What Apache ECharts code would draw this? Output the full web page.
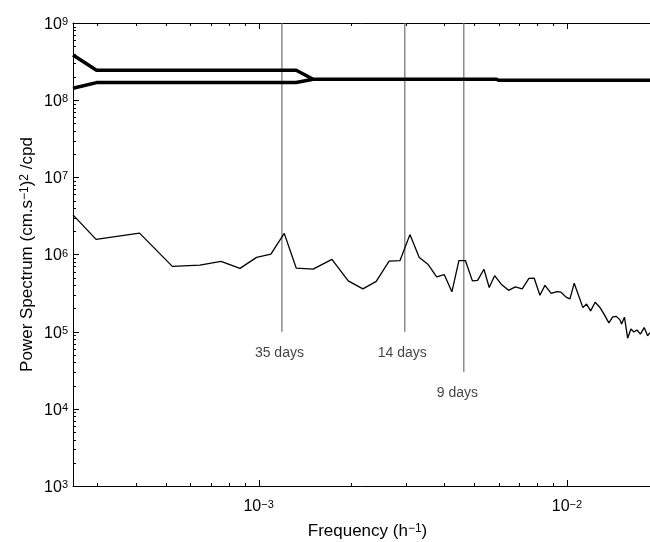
<!DOCTYPE html>
<html><head><meta charset="utf-8">
<script src="https://cdn.jsdelivr.net/npm/echarts@6/dist/echarts.min.js"></script>
<style>html,body{margin:0;padding:0;background:#fff}#c{width:650px;height:542px}</style>
</head><body><div id="c"></div>
<script>
// ---- data ----
const freq = [2.50e-4, 2.97e-4, 4.11e-4, 5.25e-4, 6.45e-4, 7.55e-4, 8.70e-4, 9.85e-4, 1.096e-3, 1.211e-3,
  1.324e-3, 1.503e-3, 1.729e-3, 1.953e-3, 2.179e-3, 2.407e-3, 2.650e-3, 2.873e-3, 3.096e-3, 3.319e-3,
  3.549e-3, 3.780e-3, 3.999e-3, 4.236e-3, 4.463e-3, 4.685e-3, 4.937e-3, 5.132e-3, 5.380e-3, 5.598e-3,
  5.828e-3, 6.122e-3, 6.470e-3, 6.797e-3, 7.161e-3, 7.529e-3, 7.833e-3, 8.174e-3, 8.486e-3, 8.895e-3,
  9.282e-3, 9.562e-3, 9.963e-3, 1.023e-2, 1.056e-2, 1.127e-2, 1.158e-2, 1.194e-2, 1.235e-2, 1.276e-2,
  1.318e-2, 1.368e-2, 1.408e-2, 1.447e-2, 1.486e-2, 1.505e-2, 1.537e-2, 1.574e-2, 1.613e-2, 1.650e-2,
  1.687e-2, 1.731e-2, 1.781e-2, 1.827e-2, 1.858e-2];
const power = [3.26e6, 1.57e6, 1.89e6, 7.01e5, 7.27e5, 8.14e5, 6.61e5, 9.17e5, 1.01e6, 1.88e6,
  6.67e5, 6.47e5, 8.64e5, 4.55e5, 3.58e5, 4.49e5, 8.19e5, 8.31e5, 1.81e6, 9.12e5,
  7.40e5, 5.13e5, 5.49e5, 3.28e5, 8.34e5, 8.34e5, 4.55e5, 4.62e5, 6.45e5, 3.73e5,
  5.31e5, 4.12e5, 3.43e5, 3.80e5, 3.58e5, 4.90e5, 4.92e5, 2.97e5, 3.98e5, 3.13e5,
  3.30e5, 3.25e5, 2.78e5, 2.66e5, 4.25e5, 2.05e5, 2.28e5, 1.86e5, 2.41e5, 2.09e5,
  1.70e5, 1.30e5, 1.55e5, 1.58e5, 1.42e5, 1.26e5, 1.54e5, 8.24e4, 1.08e5, 9.88e4,
  1.05e5, 9.31e4, 1.13e5, 8.83e4, 9.73e4];
const upperFreq = [2.50e-4, 2.98e-4, 1.324e-3, 1.503e-3, 5.90e-3, 6.00e-3, 2.03e-2];
const upperVal  = [3.85e8, 2.44e8, 2.44e8, 1.87e8, 1.87e8, 1.81e8, 1.81e8];
const lowerFreq = [2.50e-4, 2.98e-4, 1.324e-3, 1.503e-3];
const lowerVal  = [1.43e8, 1.69e8, 1.69e8, 1.87e8];
const periodLabels = ['35 days', '14 days', '9 days'];
const periodFreq   = [1.19e-3, 2.98e-3, 4.63e-3];
const periodTop    = [1e9, 1e9, 1e9];
const periodBottom = [1e5, 1e5, 3.0e4];
const xMin = 2.5e-4, xMax = 0.020344, yMin = 1e3, yMax = 1e9;
const xMajorTicks = [1e-3, 1e-2];
const yMajorTicks = [1e3, 1e4, 1e5, 1e6, 1e7, 1e8, 1e9];
const minorMantissa = [2, 3, 4, 5, 6, 7, 8, 9];
const xDecades = [1e-4, 1e-3, 1e-2];
const yDecades = [1e3, 1e4, 1e5, 1e6, 1e7, 1e8];
const xTitle = ['Frequency (h', '−1', ')'];
const yTitle = ['Power Spectrum (cm.s', '−1', ')', '2', ' /cpd'];

// ---- build ----
const FONT = 'Liberation Sans, Arial, Helvetica, sans-serif';
const tickData = [];
xMajorTicks.forEach(v => tickData.push([v, yMin, 0, 1]));
xDecades.forEach(d => minorMantissa.forEach(m => { const v = m * d; if (v > xMin && v < xMax) tickData.push([v, yMin, 0, 0]); }));
yMajorTicks.forEach(v => tickData.push([xMin, v, 1, 1]));
yDecades.forEach(d => minorMantissa.forEach(m => tickData.push([xMin, m * d, 1, 0])));

function supLabel(v) {
  const l = Math.log10(v), e = Math.round(l);
  if (Math.abs(l - e) > 1e-6) return '';
  return '{b|10}{s|' + (e < 0 ? '−' + (-e) : e) + '}';
}
const richSup = {
  b: { fontSize: 16, fontFamily: FONT, color: '#000', verticalAlign: 'bottom', lineHeight: 16 },
  s: { fontSize: 11, fontFamily: FONT, color: '#000', verticalAlign: 'top', lineHeight: 11, padding: [0, 0, 8, 0] }
};
const richName = {
  n: { fontSize: 17, fontFamily: FONT, color: '#000', verticalAlign: 'bottom', lineHeight: 17 },
  s: { fontSize: 12, fontFamily: FONT, color: '#000', verticalAlign: 'top', lineHeight: 12, padding: [0, 0, 8, 0] }
};

const series = [];
periodFreq.forEach((f, i) => {
  series.push({
    type: 'line', silent: true, symbol: 'none', z: 1,
    data: [[f, periodTop[i]], [f, periodBottom[i]]],
    lineStyle: { color: '#6e6e6e', width: 1.2 }
  });
});
series.push({
  type: 'scatter', silent: true, symbolSize: 0, z: 5,
  data: periodFreq.map((f, i) => ({ value: [f, periodBottom[i]], name: periodLabels[i] })),
  label: { show: true, position: 'bottom', align: 'left', offset: [-27, 9], formatter: p => p.name,
    fontSize: 14, fontFamily: FONT, color: '#111' }
});
series.push({
  type: 'line', symbol: 'none', z: 3, data: upperFreq.map((f, i) => [f, upperVal[i]]),
  lineStyle: { color: '#000', width: 3.5 }
});
series.push({
  type: 'line', symbol: 'none', z: 3, data: lowerFreq.map((f, i) => [f, lowerVal[i]]),
  lineStyle: { color: '#000', width: 3.5 }
});
series.push({
  type: 'line', symbol: 'none', z: 4, data: freq.map((f, i) => [f, power[i]]),
  lineStyle: { color: '#000', width: 1.3 }
});
series.push({
  type: 'custom', silent: true, z: 6, data: tickData, encode: { x: 0, y: 1 },
  renderItem: function (params, api) {
    const kind = api.value(2), len = api.value(3) ? 6 : 3;
    const st = { stroke: '#000', lineWidth: 1 };
    if (kind === 0) {
      const b = api.coord([api.value(0), yMin]), t = api.coord([api.value(0), yMax]);
      const x = Math.round(b[0]) + 0.5;
      return { type: 'group', children: [
        { type: 'line', shape: { x1: x, y1: b[1], x2: x, y2: b[1] - len }, style: st },
        { type: 'line', shape: { x1: x, y1: t[1], x2: x, y2: t[1] + len }, style: st }
      ] };
    } else {
      const l = api.coord([xMin, api.value(1)]);
      const y = Math.round(l[1]) + 0.5;
      return { type: 'line', shape: { x1: l[0], y1: y, x2: l[0] + len, y2: y }, style: st };
    }
  }
});

const chart = echarts.init(document.getElementById('c'), null, { renderer: 'canvas' });
chart.setOption({
  backgroundColor: '#fff',
  animation: false,
  grid: { left: 73, top: 23, width: 589, height: 463, containLabel: false, outerBoundsMode: 'none' },
  xAxis: [{
    type: 'log', min: xMin, max: xMax, logBase: 10,
    axisLine: { show: true, lineStyle: { color: '#000', width: 1 } },
    axisTick: { show: false }, splitLine: { show: false }, minorTick: { show: false },
    axisLabel: { formatter: supLabel, margin: 13, rich: richSup, showMinLabel: true, showMaxLabel: true },
    name: '{n|' + xTitle[0] + '}{s|' + xTitle[1] + '}{n|' + xTitle[2] + '}',
    nameLocation: 'middle', nameGap: 37, nameMoveOverlap: false, nameTextStyle: { rich: richName }
  }, {
    type: 'log', min: xMin, max: xMax, position: 'top', gridIndex: 0,
    axisLine: { show: true, lineStyle: { color: '#000', width: 1 } },
    axisTick: { show: false }, axisLabel: { show: false }, splitLine: { show: false }
  }],
  yAxis: {
    type: 'log', min: yMin, max: yMax, logBase: 10,
    axisLine: { show: true, lineStyle: { color: '#000', width: 1 } },
    axisTick: { show: false }, splitLine: { show: false },
    axisLabel: { formatter: supLabel, margin: 5, rich: richSup, padding: [3, 0, 0, 0] },
    name: '{n|' + yTitle[0] + '}{s|' + yTitle[1] + '}{n|' + yTitle[2] + '}{s|' + yTitle[3] + '}{n|' + yTitle[4] + '}',
    nameLocation: 'middle', nameGap: 37, nameRotate: 90, nameMoveOverlap: false, nameTextStyle: { rich: richName }
  },
  series: series
});
</script>
</body></html>
